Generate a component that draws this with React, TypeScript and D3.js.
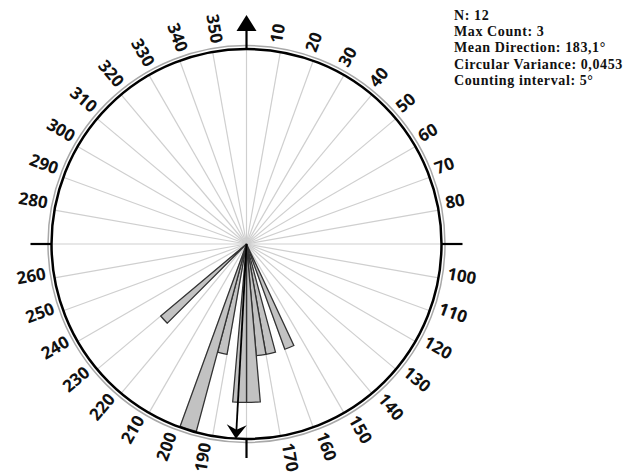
import React from "react";
import * as d3 from "d3";

// ---- data ----
const binStarts = [155, 165, 170, 175, 180, 190, 195, 225]; // degrees, 5° bins
const binCounts = [1, 1, 1, 2, 2, 1, 3, 1];
const binWidth = 5;
const maxCount = 3;
const meanDirection = 183.1;
const spokeAngles = d3.range(0, 360, 10);
const tickLabels = d3.range(10, 360, 10).filter((a) => a % 90 !== 0);
const statLines = [
  "N: 12",
  "Max Count: 3",
  "Mean Direction: 183,1°",
  "Circular Variance: 0,0453",
  "Counting interval: 5°",
];

const W = 639;
const H = 474;
const cx = 246.5;
const cy = 244;
const R = 195;

export default function App() {
  const rScale = d3.scaleSqrt().domain([0, maxCount]).range([0, R - 1]);
  const arc = d3.arc<any>();
  const rad = (d: number) => (d * Math.PI) / 180;
  const px = (a: number, r: number) => cx + r * Math.sin(rad(a));
  const py = (a: number, r: number) => cy - r * Math.cos(rad(a));
  const labelR = 203;

  return (
    <svg
      width={W}
      height={H}
      style={{ position: "absolute", left: 0, top: 0, background: "#fff" }}
    >
      {/* spokes */}
      {spokeAngles.map((a) => (
        <line
          key={"s" + a}
          x1={cx}
          y1={cy}
          x2={px(a, R)}
          y2={py(a, R)}
          stroke="#cfcfcf"
          strokeWidth={1.2}
        />
      ))}
      {/* bars */}
      <g transform={`translate(${cx},${cy})`}>
        {binStarts.map((s, i) => (
          <path
            key={"b" + s}
            d={
              arc({
                innerRadius: 0,
                outerRadius: rScale(binCounts[i]),
                startAngle: rad(s),
                endAngle: rad(s + binWidth),
              }) as string
            }
            fill="#c2c2c2"
            stroke="#333"
            strokeWidth={1.3}
            strokeLinejoin="miter"
          />
        ))}
      </g>
      {/* circles */}
      <circle cx={cx} cy={cy} r={R + 3.5} fill="none" stroke="#a8a8a8" strokeWidth={1.5} />
      <circle cx={cx} cy={cy} r={R} fill="none" stroke="#000" strokeWidth={2.5} />
      {/* cardinal ticks */}
      <g transform={`translate(${cx},${cy})`} stroke="#000" strokeWidth={2.2}>
        <line x1={0} y1={-R} x2={0} y2={-(R + 19)} />
        <line x1={R} y1={0} x2={R + 21} y2={0} />
        <line x1={0} y1={R} x2={0} y2={R + 19} />
        <line x1={-R} y1={0} x2={-(R + 21)} y2={0} />
      </g>
      <path
        transform={`translate(${cx},${cy})`}
        d={`M0,${-(R + 34)} L-10,${-(R + 18)} L10,${-(R + 18)} Z`}
        fill="#000"
      />
      {/* mean direction arrow */}
      <g transform={`translate(${cx},${cy}) rotate(${meanDirection})`}>
        <line x1={0} y1={0} x2={0} y2={-(R - 8)} stroke="#000" strokeWidth={1.8} />
        <path
          d={`M0,${-R} L-10,${-(R - 14)} L0,${-(R - 9)} L10,${-(R - 14)} Z`}
          fill="#000"
        />
      </g>
      {/* degree labels */}
      {tickLabels.map((a) => {
        const right = a < 180;
        const rot = right ? a - 90 : a - 270;
        return (
          <text
            key={"t" + a}
            transform={`translate(${px(a, labelR)},${py(a, labelR)}) rotate(${rot})`}
            textAnchor={right ? "start" : "end"}
            fontFamily="'Open Sans', sans-serif"
            fontWeight={700}
            fontSize={17}
            fill="#111"
          >
            {a}
          </text>
        );
      })}
      {/* stats */}
      {statLines.map((t, i) => (
        <text
          key={"l" + i}
          x={454}
          y={20 + i * 16.2}
          fontFamily="'Liberation Serif', 'Times New Roman', serif"
          fontWeight={700}
          fontSize={14}
          letterSpacing={0.6}
          fill="#111"
        >
          {t}
        </text>
      ))}
    </svg>
  );
}
